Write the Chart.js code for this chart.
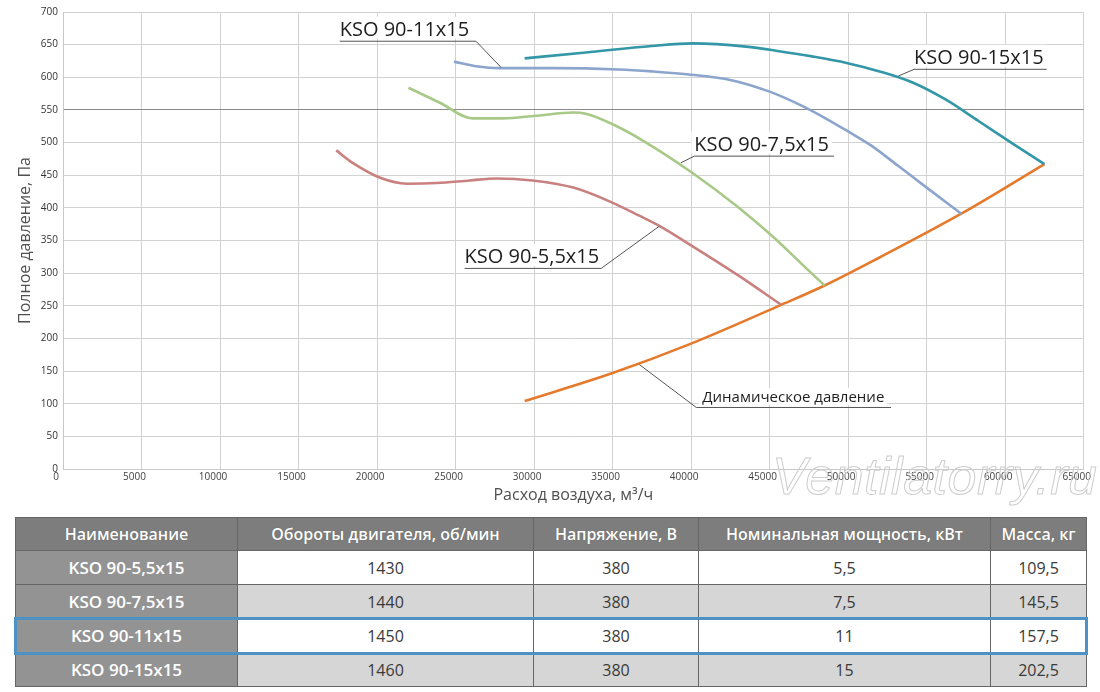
<!DOCTYPE html>
<html lang="ru">
<head>
<meta charset="utf-8">
<title>KSO 90 – аэродинамические характеристики</title>
<script src="https://cdn.jsdelivr.net/npm/chart.js@4.4.0/dist/chart.umd.min.js"></script>
<style>
  body { margin: 0; background: #fff; font-family: "Open Sans", sans-serif; }
  #wrap { position: relative; width: 1100px; height: 692px; overflow: hidden; }
  #chartBox { position: absolute; left: 0; top: 0; width: 1100px; height: 510px; }
  #mark {
    position: absolute; left: 772px; top: 446px;
    font: italic 52px "Liberation Sans", sans-serif;
    color: transparent; -webkit-text-stroke: 1px #cdcdcd;
    letter-spacing: 0.5px; pointer-events: none;
  }
  table {
    position: absolute; left: 15px; top: 517px; width: 1071px;
    border-collapse: collapse; table-layout: fixed;
    border: 1.5px solid #555;
  }
  th, td { border: 1px solid #666; text-align: center; padding: 0; }
  th {
    height: 32px; background: #7d7d7d; color: #fff;
    font-size: 16px; font-weight: 600;
    text-shadow: 0 0 1px rgba(0,0,0,0.3);
  }
  td { height: 33px; font-size: 16px; color: #3a3a3a; }
  td.name { background: #939393; color: #fff; font-weight: 600; font-size: 17px; }
  tr.odd td { background: #fff; }
  tr.even td { background: #d6d6d6; }
  tr.odd td.name, tr.even td.name { background: #939393; }
  #hl {
    position: absolute; left: 14px; top: 617px; width: 1068px; height: 32px;
    border: 3px solid #4e91c5; pointer-events: none;
  }
</style>
</head>
<body>
<div id="wrap">
  <div id="chartBox"><canvas id="fanChart"></canvas></div>
  <div id="mark">Ventilatorry.ru</div>
  <table id="specs"></table>
  <div id="hl"></div>
</div>
<script>
// curves: air flow (m3/h) and total pressure (Pa)
const flow55 = [17400, 18500, 20200, 21900, 23800, 25900, 27600, 29900, 32500, 34800, 36700, 38000, 40100, 43100, 45700];
const pres55 = [488, 468, 446, 437, 438, 442, 445, 442, 431, 410, 388, 372, 341, 295, 252];

const flow75 = [22000, 24000, 26100, 28000, 30100, 32500, 33300, 35000, 37000, 40000, 43000, 45200, 47000, 48500];
const pres75 = [584, 561, 537, 537, 541, 546, 544, 528, 502, 455, 401, 356, 315, 281];

const flow11 = [24900, 26300, 27800, 31200, 35400, 37500, 40000, 42500, 45000, 47000, 48500, 50000, 51500, 53200, 55000, 57200];
const pres11 = [624, 617, 614, 614, 612, 609, 604, 596, 578, 557, 538, 517, 495, 464, 431, 391];

const flow15 = [29400, 33300, 37500, 40100, 43500, 45600, 47700, 49900, 52000, 54100, 56200, 58300, 60500, 62500];
const pres15 = [629, 638, 648, 652, 647, 640, 632, 622, 609, 592, 566, 533, 498, 467];

const flowDyn = [29400, 35000, 40000, 45700, 48500, 52000, 57200, 62500];
const presDyn = [104, 147, 192, 251, 281, 324, 391, 467];

// table
const models  = ['KSO 90-5,5x15', 'KSO 90-7,5x15', 'KSO 90-11x15', 'KSO 90-15x15'];
const speeds  = ['1430', '1440', '1450', '1460'];
const volts   = ['380', '380', '380', '380'];
const powers  = ['5,5', '7,5', '11', '15'];
const masses  = ['109,5', '145,5', '157,5', '202,5'];
const headers = ['Наименование', 'Обороты двигателя, об/мин', 'Напряжение, В', 'Номинальная мощность, кВт', 'Масса, кг'];

function pairs(xs, ys) {
  return xs.map((x, i) => ({ x: x, y: ys[i] }));
}

// callouts: text, underline from x0 to x1 at y, leader from one end to the curve
const notes = [
  { text: 'KSO 90-11x15', x0: 17620, x1: 26300, y: 656, end: 'right', tx: 27900, ty: 615, size: 20 },
  { text: 'KSO 90-15x15', x0: 54200, x1: 62650, y: 613, end: 'left', tx: 53200, ty: 602, size: 20 },
  { text: 'KSO 90-7,5x15', x0: 40200, x1: 49100, y: 480, end: 'left', tx: 39350, ty: 469, size: 20 },
  { text: 'KSO 90-5,5x15', x0: 25570, x1: 34270, y: 308, end: 'right', tx: 37980, ty: 372, size: 20 },
  { text: 'Динамическое давление', x0: 40330, x1: 52730, y: 95, end: 'left', tx: 36700, ty: 160, size: 15 }
];

const callouts = {
  id: 'callouts',
  afterDatasetsDraw(chart) {
    const c = chart.ctx, sx = chart.scales.x, sy = chart.scales.y;
    c.save();
    notes.forEach(n => {
      const x0 = sx.getPixelForValue(n.x0), x1 = sx.getPixelForValue(n.x1);
      const y = sy.getPixelForValue(n.y);
      const ax = n.end === 'left' ? x0 : x1;
      c.font = n.size + 'px "Open Sans", sans-serif';
      const w = c.measureText(n.text).width;
      const tx = n.size < 18 ? x0 + 6 : x0;
      c.fillStyle = '#fff';
      c.fillRect(tx - 3, y - n.size - 4, w + 6, n.size + 2);
      c.fillStyle = '#1e1e1e';
      c.textBaseline = 'alphabetic';
      c.fillText(n.text, tx, y - 5);
      c.strokeStyle = '#555';
      c.lineWidth = 1;
      c.beginPath();
      c.moveTo(x0, y + 0.5);
      c.lineTo(x1, y + 0.5);
      c.moveTo(ax, y + 0.5);
      c.lineTo(sx.getPixelForValue(n.tx), sy.getPixelForValue(n.ty));
      c.stroke();
    });
    c.restore();
  }
};

Chart.defaults.font.family = '"Open Sans", sans-serif';

new Chart(document.getElementById('fanChart').getContext('2d'), {
  type: 'line',
  data: {
    datasets: [
      { label: 'KSO 90-5,5x15', data: pairs(flow55, pres55), borderColor: '#c98180' },
      { label: 'KSO 90-7,5x15', data: pairs(flow75, pres75), borderColor: '#a8c987' },
      { label: 'KSO 90-11x15', data: pairs(flow11, pres11), borderColor: '#8ca5cd' },
      { label: 'KSO 90-15x15', data: pairs(flow15, pres15), borderColor: '#3397a8' },
      { label: 'Динамическое давление', data: pairs(flowDyn, presDyn), borderColor: '#e57a2c' }
    ]
  },
  options: {
    responsive: true,
    maintainAspectRatio: false,
    animation: false,
    parsing: false,
    layout: { padding: { top: 12, right: 15, left: 0, bottom: 0 } },
    elements: {
      point: { radius: 0 },
      line: { borderWidth: 2.6, cubicInterpolationMode: 'monotone', fill: false }
    },
    plugins: {
      legend: { display: false },
      tooltip: { enabled: false }
    },
    scales: {
      x: {
        type: 'linear', min: 0, max: 65000,
        afterFit: s => { s.height = 41; },
        ticks: {
          stepSize: 5000, color: '#404040', font: { size: 10 }, padding: 2, maxRotation: 0, labelOffset: -7,
          callback: v => String(v)
        },
        grid: { color: '#d2d2d2', drawTicks: false },
        border: { color: '#c8c8c8' },
        title: { display: true, text: 'Расход воздуха, м³/ч', color: '#505050', font: { size: 16 }, padding: { top: 0, bottom: 5 } }
      },
      y: {
        min: 0, max: 700,
        afterFit: s => { s.width = 63; },
        ticks: { stepSize: 50, color: '#333', font: { size: 10 }, padding: 5 },
        grid: { color: c => c.tick && c.tick.value === 550 ? '#8a8a8a' : '#d2d2d2', drawTicks: false },
        border: { color: '#c8c8c8' },
        title: { display: true, text: 'Полное давление, Па', color: '#505050', font: { size: 16 }, padding: { top: 16, bottom: 0 } }
      }
    }
  },
  plugins: [callouts]
});

// build the table
const tbl = document.getElementById('specs');
const colW = [222, 296, 165, 292, 96];
let html = '<colgroup>' + colW.map(w => '<col style="width:' + w + 'px">').join('') + '</colgroup>';
html += '<tr>' + headers.map(h => '<th>' + h + '</th>').join('') + '</tr>';
models.forEach((m, i) => {
  html += '<tr class="' + (i % 2 ? 'even' : 'odd') + '"><td class="name">' + m + '</td><td>' + speeds[i] +
    '</td><td>' + volts[i] + '</td><td>' + powers[i] + '</td><td>' + masses[i] + '</td></tr>';
});
tbl.innerHTML = html;
</script>
</body>
</html>
